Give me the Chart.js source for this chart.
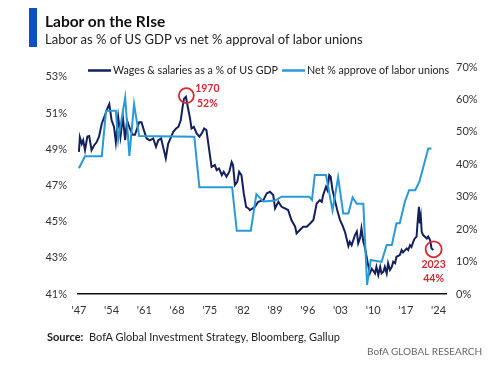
<!DOCTYPE html>
<html>
<head>
<meta charset="utf-8">
<script src="https://cdn.jsdelivr.net/npm/chart.js@4.4.1/dist/chart.umd.min.js"></script>
<style>
    body { margin: 0; background: #fff; font-family: Lato, "Open Sans", sans-serif; }
    #wrap { position: relative; width: 500px; height: 366px; overflow: hidden; }
    #wrap canvas { position: absolute; left: 0; top: 0; }
    .bar { position: absolute; left: 29px; top: 8px; width: 8px; height: 39px; background: #0a52c4; }
    .title { position: absolute; left: 45px; top: 12px; font-size: 15.5px; font-weight: bold; color: #111; white-space: nowrap; }
    .subtitle { position: absolute; left: 45px; top: 31px; font-size: 13px; color: #222; white-space: nowrap; }
    .source { position: absolute; left: 47px; top: 330px; font-size: 11px; color: #222; white-space: nowrap; }
    .brand { position: absolute; left: 367px; top: 345px; font-size: 10px; color: #666; white-space: nowrap; }
</style>
</head>
<body>
<div id="wrap">
    <canvas id="laborChart" width="500" height="366"></canvas>
    <div class="bar"></div>
    <div class="title">Labor on the RIse</div>
    <div class="subtitle">Labor as % of US GDP vs net % approval of labor unions</div>
    <div class="source"><b>Source:</b>&nbsp; BofA Global Investment Strategy, Bloomberg, Gallup</div>
    <div class="brand">BofA GLOBAL RESEARCH</div>
</div>
<script>
// wages & salaries as % of GDP (left axis)
const wageYears = [1947.0, 1947.2, 1947.6, 1947.9, 1948.3, 1948.8, 1949.2, 1949.7, 1950.2, 1950.8,
    1951.3, 1951.9, 1952.6, 1953.1, 1953.5, 1954.0, 1954.5, 1954.9, 1955.4, 1955.9,
    1956.4, 1956.9, 1957.3, 1957.9, 1958.5, 1959.0, 1959.9, 1960.4, 1960.9, 1961.5,
    1962.2, 1962.9, 1963.5, 1964.0, 1964.6, 1965.1, 1965.6, 1966.1, 1966.6, 1967.2,
    1967.8, 1968.3, 1968.8, 1969.2, 1969.5, 1969.9, 1970.3, 1970.8, 1971.1, 1971.6,
    1972.2, 1972.8, 1973.3, 1973.8, 1974.3, 1974.9, 1975.4, 1976.1, 1976.5, 1977.0,
    1977.6, 1978.0, 1978.6, 1979.2, 1979.7, 1980.0, 1980.4, 1980.9, 1981.3, 1981.8,
    1982.3, 1982.8, 1983.3, 1983.6, 1984.7, 1985.4, 1986.5, 1987.2, 1987.9, 1988.6,
    1989.0, 1989.7, 1990.4, 1991.1, 1991.8, 1992.5, 1993.3, 1993.6, 1994.3, 1995.0,
    1995.8, 1996.5, 1997.2, 1997.5, 1997.9, 1998.6, 1999.0, 1999.3, 1999.9, 2000.2,
    2000.6, 2000.9, 2001.3, 2001.8, 2002.3, 2002.9, 2003.5, 2004.0, 2004.7, 2005.0,
    2005.4, 2006.1, 2006.5, 2006.8, 2007.2, 2007.5, 2007.9, 2008.2, 2008.6, 2009.0,
    2009.3, 2009.7, 2010.0, 2010.4, 2010.7, 2011.1, 2011.5, 2011.8, 2012.2, 2012.5,
    2012.9, 2013.2, 2013.6, 2014.0, 2014.3, 2014.7, 2015.0, 2015.7, 2016.1, 2016.4,
    2017.2, 2017.5, 2017.9, 2018.2, 2018.6, 2018.9, 2019.3, 2019.5, 2019.8, 2020.0,
    2020.2, 2020.4, 2020.7, 2021.1, 2021.5, 2021.8, 2022.2, 2022.5, 2022.9];
const wageValues = [48.86, 49.66, 49.3, 49.5, 48.95, 49.7, 49.73, 48.95, 49.2, 49.4,
    49.7, 50.43, 50.9, 51.26, 51.5, 50.6, 50.25, 49.4, 50.8, 49.7,
    50.8, 49.5, 50.6, 50.15, 49.8, 49.8, 50.5, 50.5, 50.06, 49.6,
    49.5, 49.6, 49.14, 49.5, 49.6, 49.05, 48.5, 49.3, 49.6, 49.97,
    50.15, 50.24, 50.6, 51.35, 51.8, 51.9, 51.35, 50.7, 50.15, 50.24,
    49.88, 49.7, 49.88, 50.15, 50.06, 48.95, 48.03, 48.13, 47.85, 47.94,
    47.57, 47.76, 47.48, 47.76, 48.3, 48.13, 47.02, 47.2, 47.76, 47.57,
    46.56, 45.82, 45.73, 45.64, 45.82, 46.1, 46.19, 46.56, 46.65, 46.47,
    45.73, 46.1, 45.82, 45.73, 45.64, 45.09, 44.72, 44.35, 44.54, 44.72,
    44.72, 44.9, 45.09, 45.46, 46.0, 46.19, 46.1, 46.47, 46.93, 46.75,
    47.57, 47.48, 46.75, 46.19, 45.64, 45.1, 44.75, 44.4, 43.65, 43.89,
    43.7, 44.26, 44.45, 43.8, 44.1, 44.63, 43.89, 43.61, 43.06, 42.5,
    42.14, 42.4, 42.3, 42.14, 42.5, 42.05, 42.5, 42.14, 42.23, 42.5,
    42.14, 42.7, 42.33, 42.5, 42.78, 42.7, 43.06, 43.15, 43.43, 43.3,
    43.52, 43.43, 43.7, 43.6, 43.89, 44.07, 44.17, 44.9, 45.82, 44.9,
    45.27, 44.44, 44.26, 44.17, 44.07, 44.17, 43.98, 43.52, 43.43];

// net % approve of labor unions (right axis)
const unionYears = [1947.0, 1948.3, 1951.9, 1952.8, 1954.9, 1955.4, 1956.9, 1957.8, 1958.8, 1959.9,
    1971.7, 1972.8, 1979.8, 1980.8, 1983.8, 1985.0, 1986.5, 1989.0, 1990.4, 1996.3,
    1996.9, 1997.5, 1999.9, 2001.3, 2002.5, 2003.6, 2004.7, 2005.6, 2006.5, 2007.9,
    2008.7, 2009.5, 2011.8, 2012.9, 2014.0, 2015.0, 2015.7, 2016.8, 2017.7, 2019.0,
    2019.9, 2021.8, 2022.5];
const unionValues = [38.8, 42.5, 42.5, 56.5, 56.5, 47.5, 60.6, 42.6, 58.6, 48.7,
    48.5, 32.9, 32.9, 19.5, 19.5, 30.8, 28.5, 28.8, 30.0, 30.0,
    29.0, 36.7, 36.7, 25.8, 36.0, 24.8, 24.8, 29.8, 27.8, 27.8,
    2.8, 10.5, 9.9, 15.1, 15.1, 21.8, 21.8, 28.5, 32.0, 32.0,
    34.6, 44.9, 44.9];

const xTickYears = [1947, 1954, 1961, 1968, 1975, 1982, 1989, 1996, 2003, 2010, 2017, 2024];
const leftTicks = [41, 43, 45, 47, 49, 51, 53];
const rightTicks = [0, 10, 20, 30, 40, 50, 60, 70];

const legendLabels = ["Wages & salaries as a % of US GDP", "Net % approve of labor unions"];
// red circles: year, value, label lines
const callouts = [
    {year: 1970.0, value: 51.97, lines: ["1970", "52%"]},
    {year: 2022.95, value: 43.47, lines: ["2023", "44%"]}
];

const NAVY = "#13205c";
const LIGHT = "#2a9ad6";
const RED = "#d42a32";
const FONT = "Lato, 'Open Sans', sans-serif";

function toPoints(xs, ys) {
    return xs.map(function (x, i) { return {x: x, y: ys[i]}; });
}

const overlayPlugin = {
    id: "overlay",
    afterDraw: function (chart) {
        const ctx = chart.ctx;
        const xs = chart.scales.x, yl = chart.scales.y;
        ctx.save();

        // legend
        ctx.font = "10.7px " + FONT;
        ctx.textBaseline = "middle";
        ctx.textAlign = "left";
        let lx = 88;
        const ly = 70.5;
        [NAVY, LIGHT].forEach(function (col, i) {
            ctx.strokeStyle = col;
            ctx.lineWidth = 2.5;
            ctx.beginPath();
            ctx.moveTo(lx, ly);
            ctx.lineTo(lx + 23, ly);
            ctx.stroke();
            ctx.fillStyle = "#222";
            ctx.fillText(legendLabels[i], lx + 25, ly);
            lx += 25 + ctx.measureText(legendLabels[i]).width + 4;
        });

        // callouts
        callouts.forEach(function (c, i) {
            const cx = xs.getPixelForValue(c.year);
            const cy = yl.getPixelForValue(c.value);
            ctx.strokeStyle = RED;
            ctx.lineWidth = 1.8;
            ctx.beginPath();
            ctx.arc(cx, cy, i === 0 ? 7.5 : 8, 0, Math.PI * 2);
            ctx.stroke();
            ctx.fillStyle = RED;
            ctx.font = "bold 10.5px " + FONT;
            ctx.textAlign = "center";
            if (i === 0) {
                ctx.fillText(c.lines[0], cx + 21, cy - 7);
                ctx.fillText(c.lines[1], cx + 21, cy + 8);
            } else {
                ctx.fillText(c.lines[0], cx, cy + 15);
                ctx.fillText(c.lines[1], cx, cy + 29);
            }
        });
        ctx.restore();
    }
};

new Chart(document.getElementById("laborChart"), {
    type: "line",
    data: {
        datasets: [{
                label: legendLabels[1],
                data: toPoints(unionYears, unionValues),
                yAxisID: "y1",
                borderColor: LIGHT,
                borderWidth: 2,
                pointRadius: 0,
                tension: 0
            }, {
                label: legendLabels[0],
                data: toPoints(wageYears, wageValues),
                yAxisID: "y",
                borderColor: NAVY,
                borderWidth: 2,
                pointRadius: 0,
                tension: 0
            }]
    },
    options: {
        responsive: false,
        animation: false,
        layout: {padding: {top: 67, left: 0, right: 0, bottom: 0}},
        plugins: {legend: {display: false}, tooltip: {enabled: false}},
        scales: {
            x: {
                type: "linear",
                min: 1946.8,
                max: 2025.6,
                grid: {display: false, drawTicks: false},
                border: {display: true, color: "#111", width: 1.5},
                afterBuildTicks: function (scale) {
                    scale.ticks = xTickYears.map(function (v) { return {value: v}; });
                },
                afterFit: function (scale) { scale.height = 72; },
                ticks: {
                    padding: 10,
                    maxRotation: 0,
                    autoSkip: false,
                    color: "#333",
                    font: {family: FONT, size: 11},
                    callback: function (v) { return "'" + String(v).slice(2); }
                }
            },
            y: {
                position: "left",
                min: 41,
                max: 53.55,
                grid: {display: false, drawTicks: false},
                border: {display: false},
                afterBuildTicks: function (scale) {
                    scale.ticks = leftTicks.map(function (v) { return {value: v}; });
                },
                afterFit: function (scale) { scale.width = 78; },
                ticks: {
                    padding: 11,
                    color: "#333",
                    font: {family: FONT, size: 11},
                    callback: function (v) { return v + "%"; }
                }
            },
            y1: {
                position: "right",
                min: 0,
                max: 70,
                grid: {display: false, drawTicks: false},
                border: {display: false},
                afterBuildTicks: function (scale) {
                    scale.ticks = rightTicks.map(function (v) { return {value: v}; });
                },
                afterFit: function (scale) { scale.width = 54; },
                ticks: {
                    padding: 10,
                    color: "#333",
                    font: {family: FONT, size: 11},
                    callback: function (v) { return v + "%"; }
                }
            }
        }
    },
    plugins: [overlayPlugin]
});
</script>
</body>
</html>
